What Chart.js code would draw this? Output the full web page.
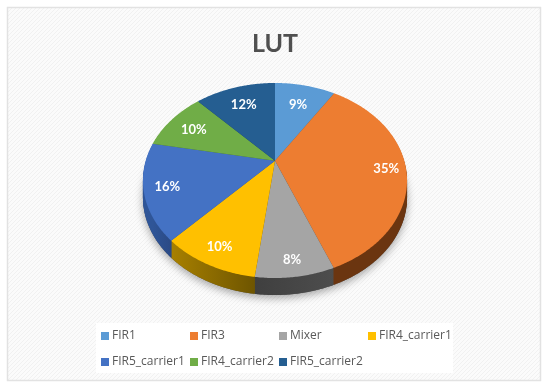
<!DOCTYPE html>
<html>
<head>
<meta charset="utf-8">
<title>LUT</title>
<script src="https://cdn.jsdelivr.net/npm/chart.js@4"></script>
<style>
    html, body { margin: 0; padding: 0; background: #fff; }
    canvas { display: block; filter: blur(0.4px); }
</style>
</head>
<body>
<canvas id="lut-chart" width="550" height="389"></canvas>
<script>
const categories = ['FIR1', 'FIR3', 'Mixer', 'FIR4_carrier1', 'FIR5_carrier1', 'FIR4_carrier2', 'FIR5_carrier2'];
const shares = [9, 35, 8, 10, 16, 10, 12];
const sliceColors = ['#5B9BD5', '#ED7D31', '#A5A5A5', '#FFC000', '#4472C4', '#70AD47', '#255E91'];
const sideLeftColors = ['#2f5f8a', '#6b3510', '#3f3f3f', '#a88000', '#2f5597', '#3f6628', '#143a5c'];
const sideRightColors = ['#2f5f8a', '#6b3510', '#4d4d4d', '#6e5500', '#2b4a85', '#3f6628', '#143a5c'];
const labelReach = [0.73, 0.85, 0.87, 0.85, 0.83, 0.77, 0.75]; // how far out each % sits

// the pie in the picture is tilted with perspective, so arcs get projected
const pieX = 275, pieY = 160.7;
const radiusX = 129.3, radiusY = 93.5, tilt = 0.203, depth = 17;

function project(angle, reach) {
    const u = Math.cos(angle) * reach;
    const v = Math.sin(angle) * reach;
    const w = 1 / (1 - tilt * v);
    return { x: pieX + radiusX * u * w, y: pieY + radiusY * v * w };
}

function traceSlice(ctx, arc, offset) {
    ctx.beginPath();
    ctx.moveTo(pieX, pieY + offset);
    for (let a = arc.startAngle; a < arc.endAngle; a += 0.01) {
        const p = project(a, 1);
        ctx.lineTo(p.x, p.y + offset);
    }
    const end = project(arc.endAngle, 1);
    ctx.lineTo(end.x, end.y + offset);
    ctx.closePath();
}

function sideFill(ctx, arc, i) {
    const a = project(arc.startAngle, 1).x;
    const b = project(arc.endAngle, 1).x;
    const grad = ctx.createLinearGradient(Math.min(a, b), 0, Math.max(a, b), 0);
    grad.addColorStop(0, sideLeftColors[i]);
    grad.addColorStop(1, sideRightColors[i]);
    return grad;
}

function hatchPattern(ctx) {
    const tile = document.createElement('canvas');
    tile.width = 4;
    tile.height = 4;
    const t = tile.getContext('2d');
    t.fillStyle = '#fbfbfb';
    t.fillRect(0, 0, 4, 4);
    t.strokeStyle = '#f1f1f1';
    t.lineWidth = 1;
    t.beginPath();
    t.moveTo(-1, 1); t.lineTo(1, -1);
    t.moveTo(0, 4); t.lineTo(4, 0);
    t.moveTo(3, 5); t.lineTo(5, 3);
    t.stroke();
    return ctx.createPattern(tile, 'repeat');
}

const backgroundPlugin = {
    id: 'sheetBackground',
    beforeDraw(chart) {
        const ctx = chart.ctx;
        ctx.save();
        ctx.fillStyle = '#ffffff';
        ctx.fillRect(0, 0, 550, 389);
        ctx.fillStyle = hatchPattern(ctx);
        ctx.fillRect(8, 8, 532, 372);
        ctx.strokeStyle = '#e2e2e2';
        ctx.lineWidth = 1.5;
        ctx.strokeRect(7.5, 7.5, 533, 373);
        ctx.fillStyle = '#ffffff';
        ctx.fillRect(96, 323, 357, 50);
        ctx.restore();
    }
};

const tiltedPiePlugin = {
    id: 'tiltedPie',
    beforeDatasetsDraw(chart) {
        const ctx = chart.ctx;
        const arcs = chart.getDatasetMeta(0).data;
        ctx.save();

        // soft shadow under the pie
        ctx.save();
        ctx.shadowColor = 'rgba(0,0,0,0.35)';
        ctx.shadowBlur = 9;
        ctx.shadowOffsetY = 3;
        ctx.fillStyle = '#555';
        traceSlice(ctx, { startAngle: -Math.PI / 2, endAngle: Math.PI * 1.5 }, depth);
        ctx.fill();
        ctx.restore();

        // side wall
        for (let d = depth; d > 0; d--) {
            arcs.forEach((arc, i) => {
                ctx.fillStyle = sideFill(ctx, arc, i);
                traceSlice(ctx, arc, d);
                ctx.fill();
            });
        }

        // top face
        arcs.forEach((arc, i) => {
            ctx.fillStyle = sliceColors[i];
            traceSlice(ctx, arc, 0);
            ctx.fill();
        });

        // percent labels
        ctx.fillStyle = '#ffffff';
        ctx.font = 'bold 13px Lato';
        ctx.textAlign = 'center';
        ctx.textBaseline = 'middle';
        arcs.forEach((arc, i) => {
            const mid = (arc.startAngle + arc.endAngle) / 2;
            const p = project(mid, labelReach[i]);
            ctx.fillText(shares[i] + '%', p.x, p.y + 1);
        });
        ctx.restore();
        return false; // default flat arcs not wanted
    }
};

const gridLegendPlugin = {
    id: 'gridLegend',
    afterDraw(chart) {
        const ctx = chart.ctx;
        ctx.save();
        ctx.font = '12px "Open Sans"';
        ctx.textBaseline = 'middle';
        categories.forEach((name, i) => {
            const x = 101 + (i % 4) * 89;
            const y = 336 + Math.floor(i / 4) * 26;
            ctx.fillStyle = sliceColors[i];
            ctx.fillRect(x, y - 4, 8, 8);
            ctx.fillStyle = '#595959';
            ctx.fillText(name, x + 11, y);
        });
        ctx.restore();
    }
};

new Chart(document.getElementById('lut-chart').getContext('2d'), {
    type: 'pie',
    data: {
        labels: categories,
        datasets: [{ data: shares, backgroundColor: sliceColors, borderWidth: 0 }]
    },
    options: {
        responsive: false,
        animation: false,
        plugins: {
            legend: { display: false },
            tooltip: { enabled: false },
            title: {
                display: true,
                text: 'LUT',
                color: '#505050',
                font: { family: 'Lato', size: 25, weight: 'bold' },
                padding: { top: 29, bottom: 10 }
            }
        }
    },
    plugins: [backgroundPlugin, tiltedPiePlugin, gridLegendPlugin]
});
</script>
</body>
</html>
